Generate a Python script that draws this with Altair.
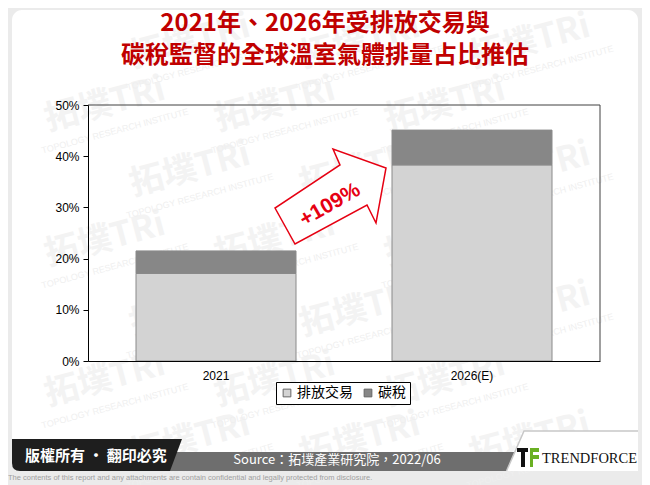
import altair as alt
import pandas as pd

# ---- data ----
years = ["2021", "2026(E)"]
series = ["排放交易", "碳稅"]
emission_trading = [17.1, 38.3]
carbon_tax = [4.4, 6.8]
y_ticks = [0, 10, 20, 30, 40, 50]
series_colors = ["#d3d3d3", "#878787"]

title_1 = "2021年、2026年受排放交易與"
title_2 = "碳稅監督的全球溫室氣體排量占比推估"
growth_label = "+109%"
copyright_text = "版權所有 · 翻印必究"
source_text = "Source：拓墣產業研究院，2022/06"
disclaimer_text = ("The contents of this report and any attachments are contain "
                   "confidential and legally protected from disclosure.")
brand_text = "TRENDFORCE"
watermark_big = "拓墣TRi"
watermark_small = "TOPOLOGY RESEARCH INSTITUTE"

df = pd.DataFrame({
    "year": years * 2,
    "type": [series[0]] * len(years) + [series[1]] * len(years),
    "value": emission_trading + carbon_tax,
    "order": [0] * len(years) + [1] * len(years),
})

# plot area origin on the page (px)
OX, OY = 88, 105
W, H = 512, 256
one = pd.DataFrame({"k": [0]})
SANS = "Liberation Sans, Arial, sans-serif"
CJK = "Noto Sans CJK TC, Noto Sans CJK SC, sans-serif"


def path(points):
    return "M" + " L".join(f"{x - OX},{y - OY}" for x, y in points) + " Z"


def shape(p, fill, stroke=None, sw=1.0):
    kw = dict(shape=p, size=4, filled=True, fill=fill, opacity=1)
    if stroke:
        kw.update(stroke=stroke, strokeWidth=sw)
    else:
        kw.update(strokeWidth=0)
    return alt.Chart(one).mark_point(**kw).encode(x=alt.value(0), y=alt.value(0))


def text(t, x, y, **kw):
    return alt.Chart(one).mark_text(text=t, baseline="middle", **kw).encode(
        x=alt.value(x - OX), y=alt.value(y - OY))


# white rounded card
card = alt.Chart(one).mark_rect(fill="white", cornerRadius=10).encode(
    x=alt.value(12 - OX), x2=alt.value(638 - OX),
    y=alt.value(10 - OY), y2=alt.value(471 - OY))

# faint watermark (decoration), kept fully inside the canvas
wm_pos = []
for r, yy in enumerate([42, 105, 170, 240, 310, 380, 440]):
    for c in range(5):
        xx = 20 + (r % 2) * 85 + c * 170
        if 90 <= xx <= 560:
            wm_pos.append((xx, yy))
wm_df = pd.DataFrame({"x": [p[0] - OX for p in wm_pos], "y": [p[1] - OY for p in wm_pos]})
wm_df2 = pd.DataFrame({"x": [p[0] - OX + 10 for p in wm_pos],
                       "y": [p[1] - OY + 26 for p in wm_pos]})
watermark = alt.Chart(wm_df).mark_text(text=watermark_big, font=CJK, fontSize=34,
                                       fontWeight="bold", color="#f3f3f3", angle=345,
                                       align="center", baseline="middle").encode(
    x=alt.X("x:Q", scale=None), y=alt.Y("y:Q", scale=None))
watermark2 = alt.Chart(wm_df2).mark_text(text=watermark_small, font=SANS, fontSize=9,
                                         color="#efefef", angle=345,
                                         align="center", baseline="middle").encode(
    x=alt.X("x:Q", scale=None), y=alt.Y("y:Q", scale=None))

bars = alt.Chart(df).mark_bar(size=160, stroke="#8a8a8a", strokeWidth=1).encode(
    x=alt.X("year:N", sort=years,
            scale=alt.Scale(type="band", paddingInner=0, paddingOuter=0),
            axis=alt.Axis(title=None, labelAngle=0, ticks=False, labelPadding=9,
                          domainColor="black", labelColor="black", labelFont=SANS,
                          labelFontSize=12, zindex=1)),
    y=alt.Y("value:Q", stack="zero", scale=alt.Scale(domain=[0, 50], nice=False),
            axis=alt.Axis(title=None, values=y_ticks, labelExpr="datum.value + '%'",
                          grid=False, tickSize=5, tickColor="black", domainColor="black",
                          labelColor="black", labelFont=SANS, labelFontSize=12,
                          labelPadding=4, zindex=1)),
    color=alt.Color("type:N", scale=alt.Scale(domain=series, range=series_colors),
                    legend=alt.Legend(title=None, orient="none", direction="horizontal",
                                      legendX=276 - OX, legendY=382 - OY,
                                      symbolType="square", symbolSize=60,
                                      symbolStrokeColor="#666", symbolStrokeWidth=1,
                                      labelFont=CJK, labelFontSize=14, labelColor="black",
                                      strokeColor="black", fillColor="white",
                                      padding=4, columnPadding=8, labelOffset=3)),
    order=alt.Order("order:Q"),
)

frame_top = alt.Chart(one).mark_rule(color="#404040", strokeWidth=1).encode(
    x=alt.value(0), x2=alt.value(W), y=alt.value(0))
frame_right = alt.Chart(one).mark_rule(color="#404040", strokeWidth=1).encode(
    x=alt.value(W), y=alt.value(0), y2=alt.value(H))

arrow = shape(path([(275, 208), (295, 244), (367, 205), (376, 223),
                    (386, 168), (333, 149), (340, 165)]),
              fill="white", stroke="#e60012", sw=1.5)
arrow_text = text(growth_label, 330, 205, angle=330, align="center",
                  font=SANS, fontSize=21, fontWeight="bold", color="#e60012")

t1 = text(title_1, 325, 24, align="center", font=CJK, fontSize=24,
          fontWeight="bold", color="#c00000")
t2 = text(title_2, 325, 56, align="center", font=CJK, fontSize=24,
          fontWeight="bold", color="#c00000")

# footer
gray_band = shape(path([(165, 452), (514.6, 452), (506.5, 471), (165, 471)]), fill="#6e6e6e")
dark_box = shape("M{},{} L{},{} L{},{} L{},{} Q{},{} {},{} Z".format(
    12 - OX, 439 - OY, 182 - OX, 439 - OY, 170 - OX, 471 - OY, 20 - OX, 471 - OY,
    12 - OX, 471 - OY, 12 - OX, 463 - OY), fill="#1e1e1e")
logo_bg = shape(path([(506.5, 471), (524, 431), (638, 431), (638, 471)]), fill="white")
logo_line = alt.Chart(pd.DataFrame({"x": [506.5 - OX, 524 - OX, 638 - OX],
                                    "y": [471 - OY, 431 - OY, 431 - OY],
                                    "o": [0, 1, 2]})).mark_line(
    color="#c8c8c8", strokeWidth=1.5).encode(
    x=alt.X("x:Q", scale=None), y=alt.Y("y:Q", scale=None), order="o:Q")
icon_black = shape(path([(517, 448), (528, 448), (528, 452), (525, 452), (525, 467),
                         (521, 467), (521, 452), (517, 452)]), fill="#111111")
icon_green = shape(path([(530, 448), (539, 448), (539, 452), (533, 452), (533, 455),
                         (539, 455), (539, 459), (533, 459), (533, 467), (530, 467)]),
                   fill="#6ab023")
brand = text(brand_text, 542, 459, align="left", font="Liberation Serif, serif",
             fontSize=14.5, color="#111111")
copy_t = text(copyright_text, 25, 456, align="left", font=CJK, fontSize=15,
              fontWeight="bold", color="white")
src_t = text(source_text, 337, 460, align="center", font=CJK, fontSize=13, color="white")
disc_t = text(disclaimer_text, 8, 478, align="left", font=SANS, fontSize=7.5,
              color="#a0a0a0")

chart = alt.layer(
    card, watermark, watermark2, gray_band, dark_box, logo_bg, logo_line,
    icon_black, icon_green,
    bars, frame_top, frame_right, arrow, arrow_text, t1, t2,
    brand, copy_t, src_t, disc_t,
).resolve_scale(x="independent", y="independent").properties(
    width=W, height=H,
    padding={"left": 80, "top": 97, "right": 42, "bottom": 124},
    autosize=alt.AutoSizeParams(type="none"),
    background="#ebebeb",
).configure_view(strokeWidth=0)

chart.save("out.html", embed_options={"renderer": "svg", "actions": False})
